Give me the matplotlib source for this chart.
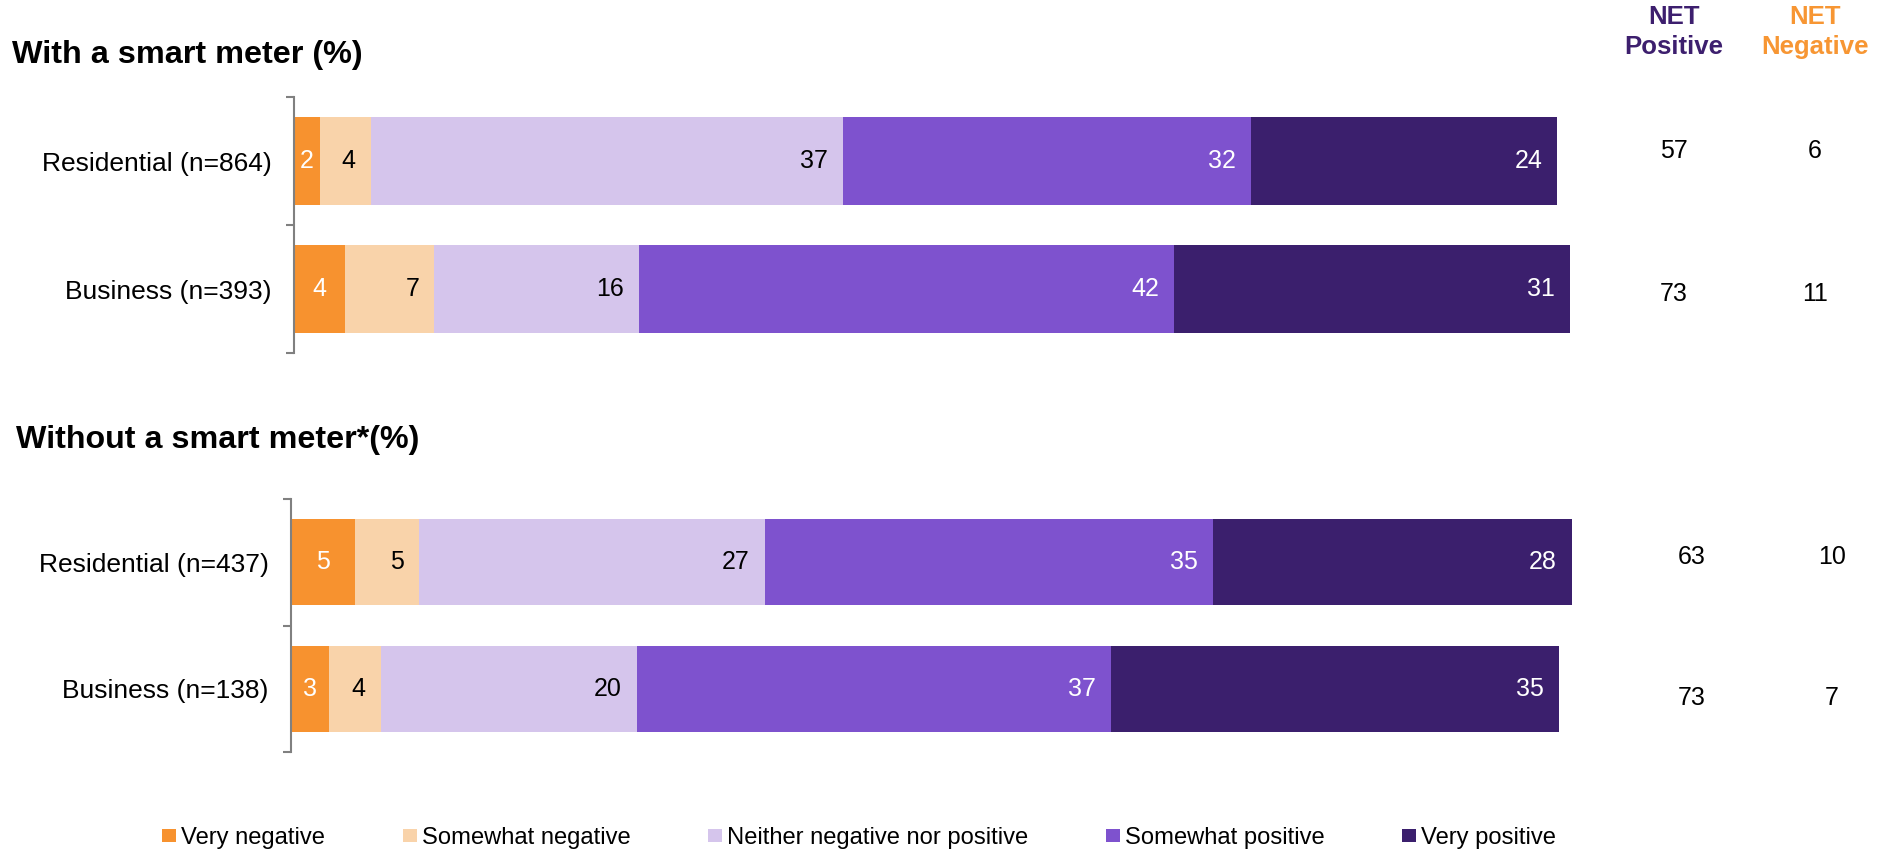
import matplotlib
matplotlib.use('Agg')
import matplotlib.pyplot as plt
from matplotlib.patches import Patch

plt.rcParams['font.family'] = ['Liberation Sans', 'DejaVu Sans']

W, H = 1883, 849

# response levels and colours
levels = ['Very negative', 'Somewhat negative', 'Neither negative nor positive',
          'Somewhat positive', 'Very positive']
colors = ['#F7922F', '#F9D3AA', '#D5C5EC', '#7E52CE', '#3B1F6D']
text_colors = ['white', 'black', 'black', 'white', 'white']

# with a smart meter
with_labels = ['Residential (n=864)', 'Business (n=393)']
with_residential = [2, 4, 37, 32, 24]
with_business = [4, 7, 16, 42, 31]
with_net_pos = [57, 73]
with_net_neg = [6, 11]

# without a smart meter
without_labels = ['Residential (n=437)', 'Business (n=138)']
without_residential = [5, 5, 27, 35, 28]
without_business = [3, 4, 20, 37, 35]
without_net_pos = [63, 73]
without_net_neg = [10, 7]


def draw_panel(ax, rows, labels, net_pos, net_neg, net_x, net_dy):
    for i, row in enumerate(rows):
        left = 0
        for j, v in enumerate(row):
            ax.barh(i, v, left=left, height=0.68, color=colors[j], zorder=1)
            if j == 0:
                ax.text(left + v / 2, i, str(v), ha='center', va='center',
                        fontsize=18, color=text_colors[j])
            else:
                ax.annotate(str(v), xy=(left + v, i), xytext=(-15, 0),
                            textcoords='offset pixels', ha='right', va='center',
                            fontsize=18, color=text_colors[j])
            left += v
        ax.annotate(str(net_pos[i]), xy=(net_x[0] / W, i), xycoords=('figure fraction', 'data'),
                    xytext=(0, -net_dy[i]), textcoords='offset pixels',
                    ha='center', va='center', fontsize=18)
        ax.annotate(str(net_neg[i]), xy=(net_x[1] / W, i), xycoords=('figure fraction', 'data'),
                    xytext=(0, -net_dy[i]), textcoords='offset pixels',
                    ha='center', va='center', fontsize=18)

    ax.set_xlim(0, 100)
    ax.set_ylim(1.5, -0.5)
    ax.set_xticks([])
    ax.set_yticks([0, 1])
    ax.set_yticklabels(labels, fontsize=19)
    ax.set_yticks([-0.5, 0.5, 1.5], minor=True)
    ax.tick_params(axis='y', which='major', length=0, pad=16)
    ax.tick_params(axis='y', which='minor', length=6, width=1.5, color='#808080')
    for s in ['top', 'right', 'bottom']:
        ax.spines[s].set_visible(False)
    ax.spines['left'].set_color('#808080')
    ax.spines['left'].set_linewidth(1.5)
    ax.spines['left'].set_zorder(3)


fig = plt.figure(figsize=(W / 100, H / 100), dpi=100)

ax1 = fig.add_axes([294 / W, 1 - 353 / H, 1276 / W, 256 / H])
draw_panel(ax1, [with_residential, with_business], with_labels,
           with_net_pos, with_net_neg, (1674, 1815), (-10, 5))

ax2 = fig.add_axes([291 / W, 1 - 752 / H, 1281 / W, 253 / H])
draw_panel(ax2, [without_residential, without_business], without_labels,
           without_net_pos, without_net_neg, (1692, 1832), (-5, 9))

fig.text(12 / W, 1 - 55 / H, 'With a smart meter (%)', fontsize=23.3,
         fontweight='bold', va='center')
fig.text(16 / W, 1 - 440 / H, 'Without a smart meter*(%)', fontsize=23.2,
         fontweight='bold', va='center')

# NET column headers
fig.text(1674 / W, 1 - 17 / H, 'NET', fontsize=18.5, fontweight='bold',
         color='#3D1F6E', ha='center', va='center')
fig.text(1674 / W, 1 - 47 / H, 'Positive', fontsize=18.5, fontweight='bold',
         color='#3D1F6E', ha='center', va='center')
fig.text(1815 / W, 1 - 17 / H, 'NET', fontsize=18.5, fontweight='bold',
         color='#F79633', ha='center', va='center')
fig.text(1815 / W, 1 - 47 / H, 'Negative', fontsize=18.5, fontweight='bold',
         color='#F79633', ha='center', va='center')

handles = [Patch(facecolor=c) for c in colors]
fig.legend(handles, levels, loc='center left', bbox_to_anchor=(162 / W, 11 / H),
           ncol=5, frameon=False, fontsize=17.1, handlelength=0.6, handleheight=0.5,
           handletextpad=0.2, columnspacing=3.27, borderpad=0, borderaxespad=0)

fig.savefig('out.png', dpi=100)
